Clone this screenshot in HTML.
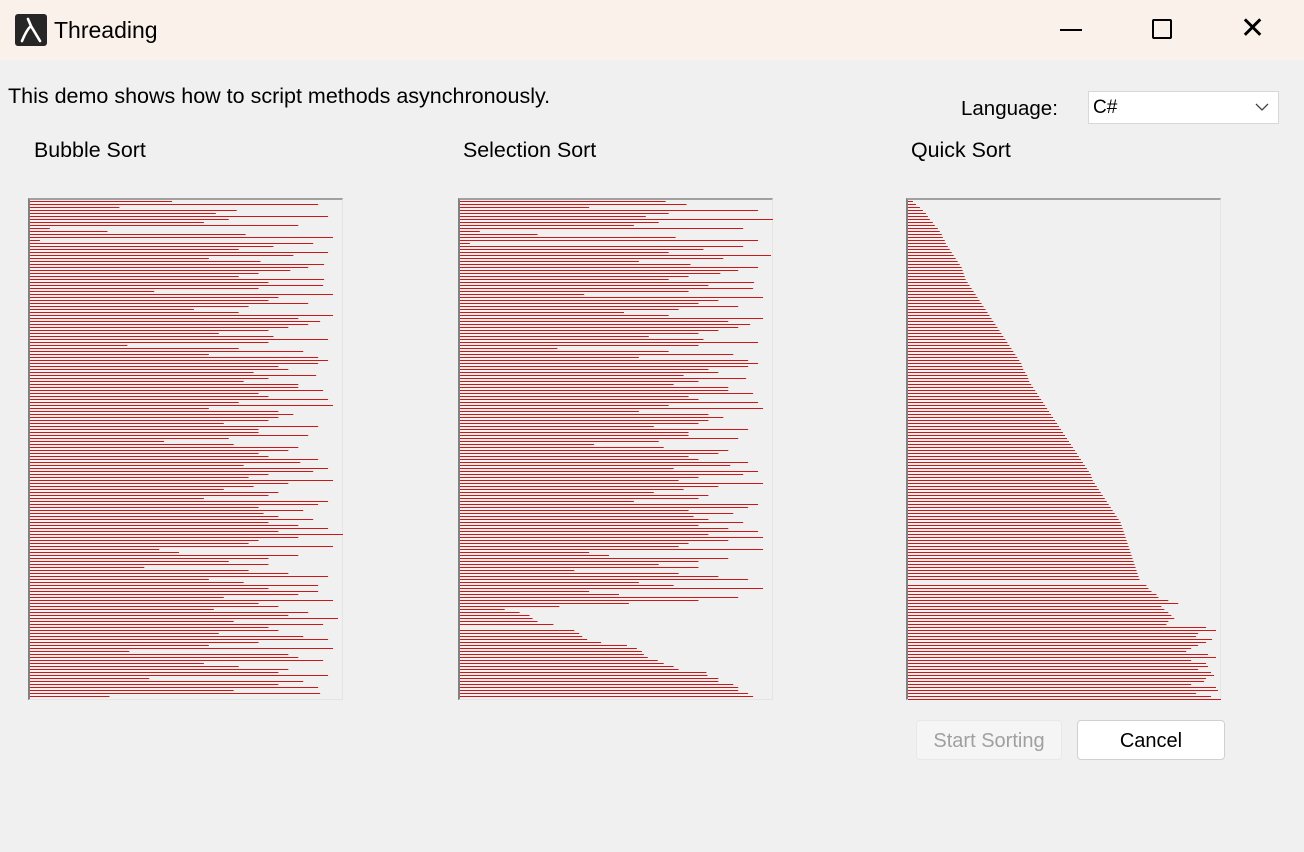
<!DOCTYPE html>
<html><head><meta charset="utf-8"><style>
body{margin:0;width:1304px;height:852px;overflow:hidden;background:#f0f0f0;font-family:"Liberation Sans",sans-serif;position:relative}
.abs{position:absolute}
#titlebar{left:0;top:0;width:1304px;height:60px;background:#f9f1ea}
.t{font-size:21.4px;color:#000;white-space:nowrap}
.panel{position:absolute;top:198px;width:315px;height:502px;border-top:2px solid #a0a0a0;border-left:2px solid #808080;border-right:1px solid #e4e4e4;border-bottom:1px solid #e4e4e4;box-sizing:border-box}
.btn{position:absolute;height:40px;border:1px solid #d0d0d0;border-radius:4px;font-size:20px;text-align:center;line-height:40px;box-sizing:border-box}
</style></head><body>
<div id="titlebar" class="abs"></div>
<div class="abs" style="left:15px;top:14px;width:32px;height:32px;background:#262626;border-radius:3px">
<svg width="32" height="32"><path d="M7 27 Q12 15 16 12 L13 5 M16 12 L25 27" stroke="#fff" stroke-width="2.6" fill="none" stroke-linecap="round"/></svg></div>
<div class="abs t" style="left:54px;top:17px;font-size:23px">Threading</div>
<div class="abs" style="left:1060px;top:29px;width:22px;height:2px;background:#000"></div>
<div class="abs" style="left:1152px;top:19px;width:16px;height:16px;border:2px solid #000;border-radius:2px"></div>
<div class="abs" style="left:1240px;top:14px;font-size:30px;line-height:30px">&#x2715;</div>
<div class="abs t" style="left:8px;top:84px;font-size:21.5px">This demo shows how to script methods asynchronously.</div>
<div class="abs t" style="left:961px;top:97px;font-size:20.5px">Language:</div>
<div class="abs" style="left:1088px;top:91px;width:191px;height:33px;background:#fff;border:1px solid #d8d8d8;box-sizing:border-box">
<span class="abs t" style="left:4px;top:5px;font-size:19px">C#</span>
<svg class="abs" style="left:166px;top:10px" width="14" height="10"><path d="M1 2 L7 8 L13 2" stroke="#444" fill="none" stroke-width="1.3"/></svg></div>
<div class="abs t" style="left:34px;top:138px">Bubble Sort</div>
<div class="abs t" style="left:463px;top:138px">Selection Sort</div>
<div class="abs t" style="left:911px;top:138px">Quick Sort</div>
<div class="panel" style="left:28px"><svg id="s0" width="315" height="502" style="position:absolute;left:-2px;top:-2px"></svg></div>
<div class="panel" style="left:458px"><svg id="s1" width="315" height="502" style="position:absolute;left:-2px;top:-2px"></svg></div>
<div class="panel" style="left:906px"><svg id="s2" width="315" height="502" style="position:absolute;left:-2px;top:-2px"></svg></div>
<div class="btn" style="left:916px;top:720px;width:146px;background:#f5f5f5;color:#a0a0a0;border-color:#e8e8e8">Start Sorting</div>
<div class="btn" style="left:1077px;top:720px;width:148px;background:#fff;color:#000">Cancel</div>
<script>
const bubbleValues=[143,290,90,208,187,300,200,175,270,20,78,217,305,10,285,245,210,300,265,180,232,296,280,262,230,210,296,240,295,230,125,305,250,240,280,220,165,210,305,270,292,280,260,240,190,245,300,240,98,210,275,180,290,300,290,250,260,225,288,240,215,270,270,295,230,240,300,210,305,180,250,265,250,240,195,290,230,230,280,200,135,205,270,260,230,240,290,272,215,300,285,240,220,305,260,225,195,250,240,175,300,290,230,275,235,250,285,240,270,300,250,315,270,230,220,305,130,150,270,240,200,240,115,220,260,300,180,215,290,240,290,270,195,305,230,250,185,280,260,310,205,295,240,250,190,275,300,230,180,305,100,260,270,295,175,210,260,250,300,120,275,250,290,205,292,80];
const selectionValues=[207,228,130,300,210,187,315,200,175,285,20,78,217,300,10,285,245,210,313,265,180,232,300,280,262,230,210,296,250,295,230,125,305,260,240,280,220,165,210,305,270,292,280,260,240,190,245,300,240,98,210,275,180,290,300,290,250,260,225,288,240,215,270,270,295,230,240,300,210,305,180,250,265,250,240,195,290,230,230,280,200,135,205,270,260,230,240,290,272,215,300,285,240,220,305,260,225,195,250,240,175,300,290,230,275,235,250,285,240,270,300,250,305,270,230,220,305,130,150,270,240,200,240,115,220,260,290,180,215,305,130,160,280,240,170,100,45,60,70,73,78,94,0,115,120,123,128,142,168,178,183,185,189,199,205,215,220,248,249,260,260,275,280,280,290,295];
const quickValues=[5,8,12,15,18,20,22,25,27,30,32,34,35,37,38,40,42,44,46,48,50,52,54,55,56,57,58,60,62,64,66,68,70,72,74,76,78,80,82,84,86,88,90,92,94,96,98,100,102,104,106,108,110,112,114,115,116,118,120,121,122,124,126,128,130,132,134,136,138,140,142,144,146,148,150,152,154,156,158,160,162,164,166,168,170,172,174,176,178,180,182,184,185,186,188,190,192,194,196,198,200,202,204,206,208,210,212,214,215,216,217,218,219,220,221,222,223,224,225,226,227,228,229,230,231,232,233,0,240,242,245,250,252,262,272,255,258,262,265,268,262,260,300,310,292,290,306,300,292,285,280,302,310,285,300,302,292,305,308,300,298,285,310,312,290,305,315,310,285,290];
const maxValue=315;
const series=[bubbleValues,selectionValues,quickValues];
function xScale(v){return 2+v/maxValue*313;}
function yScale(i){return 3.5+i*3;}
series.forEach((vals,k)=>{
  const svg=document.getElementById('s'+k);
  vals.forEach((v,i)=>{
    if(v<=0)return;
    const l=document.createElementNS('http://www.w3.org/2000/svg','line');
    
    
    l.setAttribute('x1',2);l.setAttribute('x2',xScale(v));
    l.setAttribute('y1',yScale(i));l.setAttribute('y2',yScale(i));
    l.setAttribute('stroke','#c81818');l.setAttribute('stroke-width','1');
    svg.appendChild(l);
  });
});
</script>
</body></html>
